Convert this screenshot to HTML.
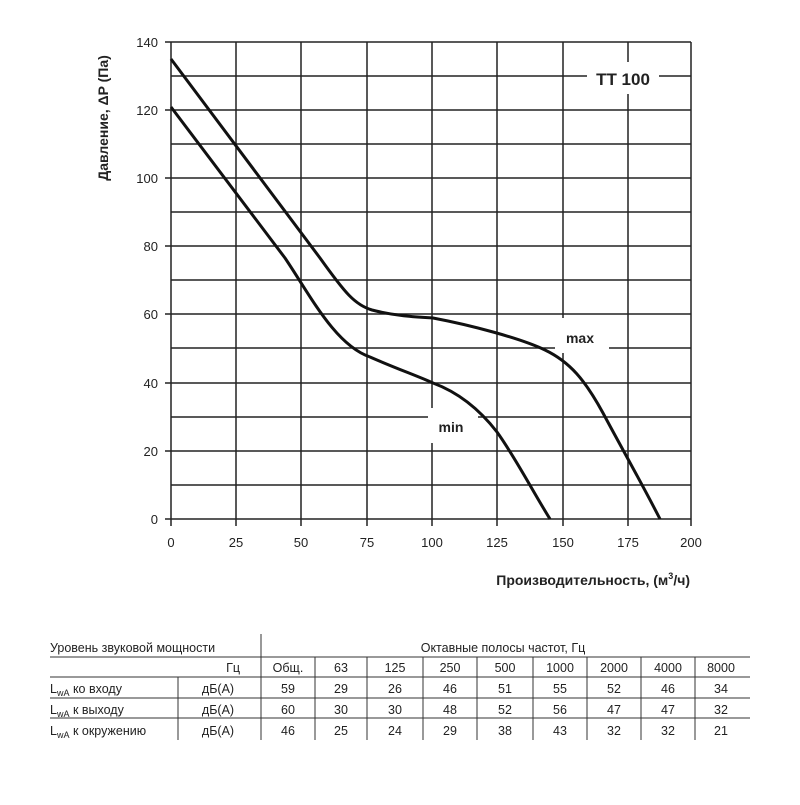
<!DOCTYPE html>
<html><head><meta charset="utf-8"><style>
body{margin:0;background:#fff;}
text{font-family:"Liberation Sans",sans-serif;fill:#222;}
</style></head><body>
<svg width="800" height="800" viewBox="0 0 800 800" xmlns="http://www.w3.org/2000/svg">
<g stroke="#222" stroke-width="1.5" fill="none">
<line x1="165" y1="42" x2="691" y2="42"/>
<line x1="171" y1="76" x2="691" y2="76"/>
<line x1="165" y1="110" x2="691" y2="110"/>
<line x1="171" y1="144" x2="691" y2="144"/>
<line x1="165" y1="178" x2="691" y2="178"/>
<line x1="171" y1="212" x2="691" y2="212"/>
<line x1="165" y1="246" x2="691" y2="246"/>
<line x1="171" y1="280" x2="691" y2="280"/>
<line x1="165" y1="314" x2="691" y2="314"/>
<line x1="171" y1="348" x2="691" y2="348"/>
<line x1="165" y1="383" x2="691" y2="383"/>
<line x1="171" y1="417" x2="691" y2="417"/>
<line x1="165" y1="451" x2="691" y2="451"/>
<line x1="171" y1="485" x2="691" y2="485"/>
<line x1="165" y1="519" x2="691" y2="519"/>
<line x1="171" y1="42" x2="171" y2="526"/>
<line x1="236" y1="42" x2="236" y2="526"/>
<line x1="301" y1="42" x2="301" y2="526"/>
<line x1="367" y1="42" x2="367" y2="526"/>
<line x1="432" y1="42" x2="432" y2="526"/>
<line x1="497" y1="42" x2="497" y2="526"/>
<line x1="563" y1="42" x2="563" y2="526"/>
<line x1="628" y1="42" x2="628" y2="526"/>
<line x1="691" y1="42" x2="691" y2="526"/>
</g>
<rect x="587" y="62" width="72" height="32" fill="#fff"/>
<rect x="555" y="318" width="54" height="35" fill="#fff"/>
<rect x="428" y="408" width="50" height="35" fill="#fff"/>
<g stroke="#111" stroke-width="3" fill="none" stroke-linejoin="round">
<path d="M171,59 L320,258 C345,293 355,305 372,310 C395,316 415,317 433,318 C470,325 520,338 545,350 C570,362 585,380 603,413 C620,445 640,480 660,519"/>
<path d="M171,107 L285,258 C310,295 335,345 370,357 C395,368 420,377 433,383 C460,393 480,410 497,432 C515,457 532,490 550,519"/>
</g>
<text x="623" y="85" font-size="17" font-weight="bold" text-anchor="middle" fill="#111">TT 100</text>
<text x="580" y="343" font-size="14" font-weight="bold" text-anchor="middle">max</text>
<text x="451" y="432" font-size="14" font-weight="bold" text-anchor="middle">min</text>
<g font-size="13" text-anchor="end">
<text x="158" y="47">140</text><text x="158" y="115">120</text><text x="158" y="183">100</text>
<text x="158" y="251">80</text><text x="158" y="319">60</text><text x="158" y="388">40</text>
<text x="158" y="456">20</text><text x="158" y="524">0</text>
</g>
<g font-size="13" text-anchor="middle">
<text x="171" y="547">0</text><text x="236" y="547">25</text><text x="301" y="547">50</text>
<text x="367" y="547">75</text><text x="432" y="547">100</text><text x="497" y="547">125</text>
<text x="563" y="547">150</text><text x="628" y="547">175</text><text x="691" y="547">200</text>
</g>
<text transform="translate(108,118) rotate(-90)" font-size="14" font-weight="bold" text-anchor="middle">Давление, ΔP (Па)</text>
<text x="690" y="585" font-size="14" font-weight="bold" text-anchor="end">Производительность, (м<tspan font-size="9" dy="-6">3</tspan><tspan dy="6">/ч)</tspan></text>
<g stroke="#333" stroke-width="1" fill="none">
<line x1="261" y1="634" x2="261" y2="740"/>
<line x1="50" y1="657" x2="750" y2="657"/>
<line x1="50" y1="677" x2="750" y2="677"/>
<line x1="50" y1="698" x2="750" y2="698"/>
<line x1="50" y1="718" x2="750" y2="718"/>
<line x1="178" y1="677" x2="178" y2="740"/>
<line x1="315" y1="657" x2="315" y2="740"/>
<line x1="367" y1="657" x2="367" y2="740"/>
<line x1="423" y1="657" x2="423" y2="740"/>
<line x1="477" y1="657" x2="477" y2="740"/>
<line x1="533" y1="657" x2="533" y2="740"/>
<line x1="587" y1="657" x2="587" y2="740"/>
<line x1="641" y1="657" x2="641" y2="740"/>
<line x1="695" y1="657" x2="695" y2="740"/>
</g>
<g font-size="12.5">
<text x="50" y="652">Уровень звуковой мощности</text>
<text x="503" y="652" text-anchor="middle">Октавные полосы частот, Гц</text>
<text x="240" y="672" text-anchor="end">Гц</text>
<text x="50" y="693">L<tspan font-size="9" dy="3">wA</tspan><tspan dy="-3"> ко входу</tspan></text>
<text x="50" y="714">L<tspan font-size="9" dy="3">wA</tspan><tspan dy="-3"> к выходу</tspan></text>
<text x="50" y="735">L<tspan font-size="9" dy="3">wA</tspan><tspan dy="-3"> к окружению</tspan></text>
<text x="218" y="693" text-anchor="middle">дБ(А)</text>
<text x="218" y="714" text-anchor="middle">дБ(А)</text>
<text x="218" y="735" text-anchor="middle">дБ(А)</text>
</g>
<g font-size="12.5" text-anchor="middle">
<text x="288" y="672">Общ.</text><text x="341" y="672">63</text><text x="395" y="672">125</text><text x="450" y="672">250</text><text x="505" y="672">500</text><text x="560" y="672">1000</text><text x="614" y="672">2000</text><text x="668" y="672">4000</text><text x="721" y="672">8000</text>
<text x="288" y="693">59</text><text x="341" y="693">29</text><text x="395" y="693">26</text><text x="450" y="693">46</text><text x="505" y="693">51</text><text x="560" y="693">55</text><text x="614" y="693">52</text><text x="668" y="693">46</text><text x="721" y="693">34</text>
<text x="288" y="714">60</text><text x="341" y="714">30</text><text x="395" y="714">30</text><text x="450" y="714">48</text><text x="505" y="714">52</text><text x="560" y="714">56</text><text x="614" y="714">47</text><text x="668" y="714">47</text><text x="721" y="714">32</text>
<text x="288" y="735">46</text><text x="341" y="735">25</text><text x="395" y="735">24</text><text x="450" y="735">29</text><text x="505" y="735">38</text><text x="560" y="735">43</text><text x="614" y="735">32</text><text x="668" y="735">32</text><text x="721" y="735">21</text>
</g>
</svg>
</body></html>
